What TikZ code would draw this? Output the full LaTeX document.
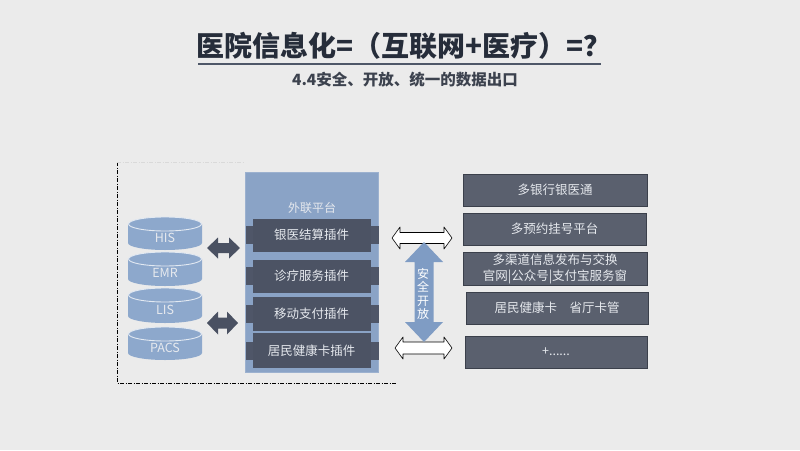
\documentclass[tikz,border=0pt]{standalone}
\usepackage{fontspec}
\setmainfont{Noto Sans CJK SC}
\definecolor{bg}{HTML}{EBEBEB}
\definecolor{titlec}{HTML}{262D3A}
\definecolor{ulc}{HTML}{4E5768}
\definecolor{cylc}{HTML}{8DA8CC}
\definecolor{platc}{HTML}{8AA3C6}
\definecolor{plugc}{HTML}{4C5364}
\definecolor{tabc}{HTML}{4F5668}
\definecolor{rboxc}{HTML}{5A606E}
\definecolor{rboxb}{HTML}{3B404B}
\definecolor{darrc}{HTML}{4A5162}
\definecolor{barrc}{HTML}{7F9CC4}
\definecolor{ltext}{HTML}{E6E9EE}
\tikzset{
  dbtext/.style={text=ltext, font=\fontsize{12.5}{13}\selectfont, inner sep=0pt},
  plugbody/.style={fill=plugc, minimum width=118pt, text=ltext, inner sep=0pt,
    font=\fontsize{12.5}{14}\selectfont},
  rbox/.style={fill=rboxc, draw=rboxb, line width=0.8pt, text=ltext, inner sep=0pt,
    align=center, font=\fontsize{12.5}{16}\selectfont},
  platform/.style={fill=platc, draw=platc!85!white, line width=0.6pt, minimum width=133pt,
    minimum height=200pt, inner sep=0pt},
  darrow/.style={fill=darrc},
  warrow/.style={fill=white, draw=black, line width=0.6pt, line join=round},
  barrow/.style={fill=barrc},
  frameline/.style={line width=0.8pt, dash pattern=on 4pt off 1.5pt on 1pt off 1.5pt},
}
% horizontal block double arrow: x1, x2, yc, half shaft, half head, head length, style
\newcommand\hblockarrow[7]{%
  \path[#7] (#1,#3) -- (#1+#6,#3-#5) -- (#1+#6,#3-#4) -- (#2-#6,#3-#4) -- (#2-#6,#3-#5)
    -- (#2,#3) -- (#2-#6,#3+#5) -- (#2-#6,#3+#4) -- (#1+#6,#3+#4) -- (#1+#6,#3+#5) -- cycle;}
% vertical block double arrow: y1, y2, xc, half shaft, half head, head length, style
\newcommand\vblockarrow[7]{%
  \path[#7] (#3,#1) -- (#3+#5,#1+#6) -- (#3+#4,#1+#6) -- (#3+#4,#2-#6) -- (#3+#5,#2-#6)
    -- (#3,#2) -- (#3-#5,#2-#6) -- (#3-#4,#2-#6) -- (#3-#4,#1+#6) -- (#3-#5,#1+#6) -- cycle;}
% database cylinder: name, top y, bottom y, label
\newcommand\mydbcyl[4]{%
  \fill[cylc] (128,#2+7) -- (128,#3-7) arc[start angle=180,end angle=0,x radius=37,y radius=7]
    -- (202,#2+7) -- cycle;
  \draw[fill=cylc, draw=white!75!cylc, line width=0.9pt] (165,#2+7) ellipse[x radius=36.5,y radius=7];
  \node[dbtext] (#1) at (165,{(#2+#3)/2+4}) {#4};}
% plugin bar: name, centre y, height, label
\newcommand\myplugin[4]{%
  \fill[tabc] (245.5,#2-9) rectangle (378.5,#2+9);
  \node[plugbody, minimum height=#3] (#1) at (311.5,#2) {#4};}
\begin{document}
\begin{tikzpicture}[x=1pt,y=-1pt]
\useasboundingbox (0,0) rectangle (800,450);
\fill[bg] (0,0) rectangle (800,450);

% title
\node[font=\fontsize{28}{30}\selectfont\bfseries, text=titlec, inner sep=0pt] (title) at (404,46)
  {医院信息化=（互联网+医疗）=？};
\draw[ulc, line width=2pt] (198,64) -- (601,64);
\node[font=\fontsize{15.5}{17}\selectfont\bfseries, text=titlec!90!white, inner sep=0pt] (subtitle) at (405,80)
  {4.4安全、开放、统一的数据出口};

% dash-dot frame
\draw[frameline, black] (117,162) -- (117,383) -- (396,383);
\draw[frameline, gray!30] (117,162) -- (245,162);

% databases
\mydbcyl{his}{217}{250}{HIS}
\mydbcyl{emr}{252}{286}{EMR}
\mydbcyl{lis}{288}{323}{LIS}
\mydbcyl{pacs}{327}{360}{PACS}

% platform
\node[platform] (plat) at (312,272) {};
\node[text=ltext, font=\fontsize{12}{14}\selectfont, inner sep=0pt] (platlabel) at (312,208) {外联平台};
\myplugin{p1}{235}{33}{银医结算插件}
\myplugin{p2}{276}{33}{诊疗服务插件}
\myplugin{p3}{313.5}{34}{移动支付插件}
\myplugin{p4}{350.5}{35}{居民健康卡插件}

% dark arrows
\hblockarrow{207}{240}{248}{5}{10.5}{11}{darrow}
\hblockarrow{207}{238}{323}{5.5}{11.5}{11}{darrow}

% white arrows
\hblockarrow{392}{452}{238}{5.5}{11}{8}{warrow}
\hblockarrow{395}{452}{348}{6}{11}{8}{warrow}

% blue vertical arrow
\vblockarrow{242}{342}{424}{9.5}{19}{20}{barrow}
\node[text=white, align=center, font=\fontsize{12}{13.5}\selectfont, inner sep=0pt] (safe) at (423,294)
  {安\\全\\开\\放};

% right boxes
\node[rbox, minimum width=184pt, minimum height=32pt] (b1) at (555,190) {多银行银医通};
\node[rbox, minimum width=183pt, minimum height=32pt] (b2) at (554.5,229) {多预约挂号平台};
\node[rbox, minimum width=184pt, minimum height=33pt] (b3) at (555,268.5)
  {多渠道信息发布与交换\\官网|公众号|支付宝服务窗};
\node[rbox, minimum width=182pt, minimum height=32pt] (b4) at (557,308) {居民健康卡\quad 省厅卡管};
\node[rbox, minimum width=182pt, minimum height=32pt] (b5) at (556,352) {+......};
\end{tikzpicture}
\end{document}
